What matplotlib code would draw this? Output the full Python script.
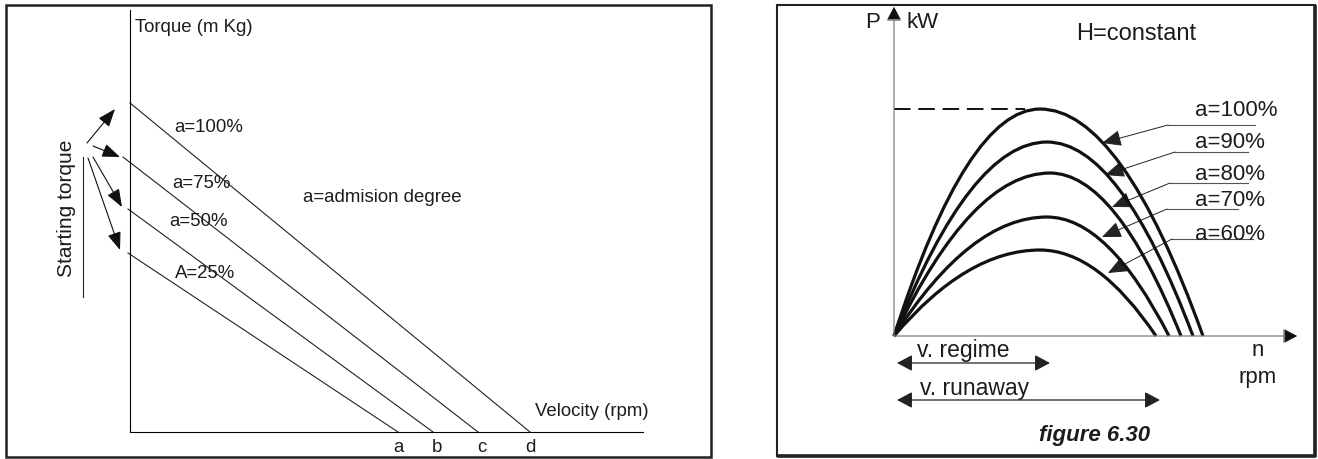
import matplotlib.pyplot as plt
from matplotlib.patches import Rectangle, PathPatch
from matplotlib.path import Path

plt.rcParams['font.family'] = ['Liberation Sans', 'DejaVu Sans']

# left: torque vs velocity for each admission degree
adm_labels = ["a=100%", "a=75%", "a=50%", "A=25%"]
start_torque = [329, 275, 223, 179]
runaway_speed = [400, 348, 303, 268]
speed_marks = ["d", "c", "b", "a"]

# right: power vs speed, H = constant
power_labels = ["a=100%", "a=90%", "a=80%", "a=70%", "a=60%"]
peak_speed = [146, 153, 156, 153, 146]
peak_power = [227, 194, 163, 119, 86]
end_speed = [309, 299, 287, 275, 262]

W, H = 1318, 459
TXT = '#1c1c1c'


def box(x0, y0, x1, y1):
    # pixel box (top-left origin) -> figure fractions
    return [x0 / W, (H - y1) / H, (x1 - x0) / W, (y1 - y0) / H]


fig = plt.figure(figsize=(W / 100, H / 100), dpi=100)
bg = fig.add_axes([0, 0, 1, 1])
bg.set_xlim(0, W)
bg.set_ylim(H, 0)
bg.axis('off')

# frames
bg.add_patch(Rectangle((6, 5), 705, 452, fill=False, lw=1.8, ec='#222'))
bg.add_patch(Rectangle((777, 5), 538, 451, fill=False, lw=1.5, ec='#222'))
bg.plot([1315, 1315], [5, 457], color='#222', lw=2.6, solid_capstyle='butt')
bg.plot([777, 1316], [456, 456], color='#222', lw=2.6, solid_capstyle='butt')

# ---------------- left chart ----------------
ax1 = fig.add_axes(box(130, 10, 643, 432))
ax1.set_xlim(0, 513)
ax1.set_ylim(0, 422)
ax1.patch.set_visible(False)
ax1.spines['top'].set_visible(False)
ax1.spines['right'].set_visible(False)
ax1.spines['left'].set_linewidth(0.8)
ax1.spines['bottom'].set_linewidth(0.8)
ax1.set_xticks([])
ax1.set_yticks([])

line_x0 = [0, -7, -2, -2]
lab_pos = [(79, 304), (71, 249), (68, 210), (75, 159)]
for i in range(len(adm_labels)):
    ax1.plot([line_x0[i], runaway_speed[i]], [start_torque[i], 0],
             color='#222', lw=0.8, clip_on=False)
    ax1.text(lab_pos[i][0], lab_pos[i][1], adm_labels[i], fontsize=13.4,
             color=TXT, ha='center', va='center')
    ax1.text(runaway_speed[i] + (0 if i in (0, 3) else 4), -15, speed_marks[i],
             fontsize=13.4, color=TXT, ha='center', va='center', clip_on=False)

# starting torque arrows
tails = [(-43, 289), (-37, 286), (-37, 275), (-42, 274)]
tips = [(-15, 323), (-10, 275), (-8, 225), (-10, 182)]
for t, h in zip(tails, tips):
    ax1.annotate('', xy=h, xytext=t, annotation_clip=False,
                 arrowprops=dict(arrowstyle='-|>,head_length=1.0,head_width=0.38',
                                 mutation_scale=11, color='#111', lw=0.8,
                                 shrinkA=0, shrinkB=0))

bg.text(135, 27, 'Torque (m Kg)', fontsize=13.4, color=TXT, ha='left', va='center')
bg.text(303, 198, 'a=admision degree', fontsize=13.4, color=TXT, ha='left', va='center')
bg.text(535, 411, 'Velocity (rpm)', fontsize=13.4, color=TXT, ha='left', va='center')
bg.text(66, 208, 'Starting torque', fontsize=15, color=TXT, rotation=90,
        ha='center', va='center')
bg.plot([83, 83], [157, 297], color='#222', lw=0.8)

# ---------------- right chart ----------------
ax2 = fig.add_axes(box(894, 10, 1297, 336))
ax2.set_xlim(0, 403)
ax2.set_ylim(0, 326)
ax2.axis('off')

axis_arrow = dict(arrowstyle='-|>,head_length=0.85,head_width=0.45',
                  mutation_scale=10, color='#808080', lw=0.9,
                  shrinkA=0, shrinkB=0)
ax2.annotate('', xy=(0, 329), xytext=(0, 0), annotation_clip=False,
             arrowprops=axis_arrow)
ax2.annotate('', xy=(403, 0), xytext=(0, 0), annotation_clip=False,
             arrowprops=axis_arrow)
# arrow heads black over the grey shafts
for xy, xt in [((0, 329), (0, 318)), ((403, 0), (392, 0))]:
    ax2.annotate('', xy=xy, xytext=xt, annotation_clip=False,
                 arrowprops=dict(arrowstyle='-|>,head_length=0.85,head_width=0.45',
                                 mutation_scale=10, color='#111', lw=0.1,
                                 shrinkA=0, shrinkB=0))

codes = [Path.MOVETO, Path.CURVE3, Path.CURVE3, Path.CURVE3, Path.CURVE3]
for i in range(len(power_labels)):
    px, py, ex = peak_speed[i], peak_power[i], end_speed[i]
    verts = [(0, 0), (px / 2, py), (px, py), (px + (ex - px) / 2, py), (ex, 0)]
    ax2.add_patch(PathPatch(Path(verts, codes), fill=False, lw=2.3,
                            ec='#111', capstyle='butt', clip_on=False))

ax2.plot([0, peak_speed[0] - 15], [peak_power[0]] * 2, color='#111', lw=1.4,
         ls=(0, (8.5, 4)))

# curve labels with leader arrows (pixel coords)
label_y = [110, 143, 174, 201, 235]
under = [(1168, 1255, 125), (1175, 1248, 152), (1170, 1248, 183),
         (1167, 1238, 209), (1172, 1253, 239)]
ptr = [(1102, 143), (1105, 175), (1112, 207), (1102, 237), (1108, 273)]
for i in range(len(power_labels)):
    bg.text(1195, label_y[i], power_labels[i], fontsize=16, color=TXT,
            ha='left', va='center')
    x0, x1, uy = under[i]
    bg.plot([x0, x1], [uy, uy], color='#555', lw=0.8)
    bg.annotate('', xy=ptr[i], xytext=(x0, uy),
                arrowprops=dict(arrowstyle='-|>,head_length=1.0,head_width=0.42',
                                mutation_scale=12, color='#222', lw=0.7,
                                shrinkA=0, shrinkB=0))

bg.text(1136, 34, 'H=constant', fontsize=17, color=TXT, ha='center', va='center')
bg.text(873, 23, 'P', fontsize=16, color=TXT, ha='center', va='center')
bg.text(906, 23, 'kW', fontsize=16, color=TXT, ha='left', va='center')
bg.text(1258, 351, 'n', fontsize=16, color=TXT, ha='center', va='center')
bg.text(1258, 377, 'rpm', fontsize=16, color=TXT, ha='center', va='center')

span_arrow = dict(arrowstyle='<|-|>,head_length=0.85,head_width=0.45',
                  mutation_scale=11, color='#222', lw=0.9, shrinkA=0, shrinkB=0)
ax2.annotate('', xy=(max(peak_speed), -27), xytext=(3, -27),
             annotation_clip=False, arrowprops=span_arrow)
ax2.annotate('', xy=(end_speed[-1] + 4, -64), xytext=(3, -64),
             annotation_clip=False, arrowprops=span_arrow)
bg.text(917, 350, 'v. regime', fontsize=16.5, color=TXT, ha='left', va='center')
bg.text(920, 388, 'v. runaway', fontsize=16.5, color=TXT, ha='left', va='center')

bg.text(1095, 436, 'figure 6.30', fontsize=16, color=TXT, ha='center',
        va='center', fontweight='bold', fontstyle='italic')

fig.savefig('out.png', dpi=100)
